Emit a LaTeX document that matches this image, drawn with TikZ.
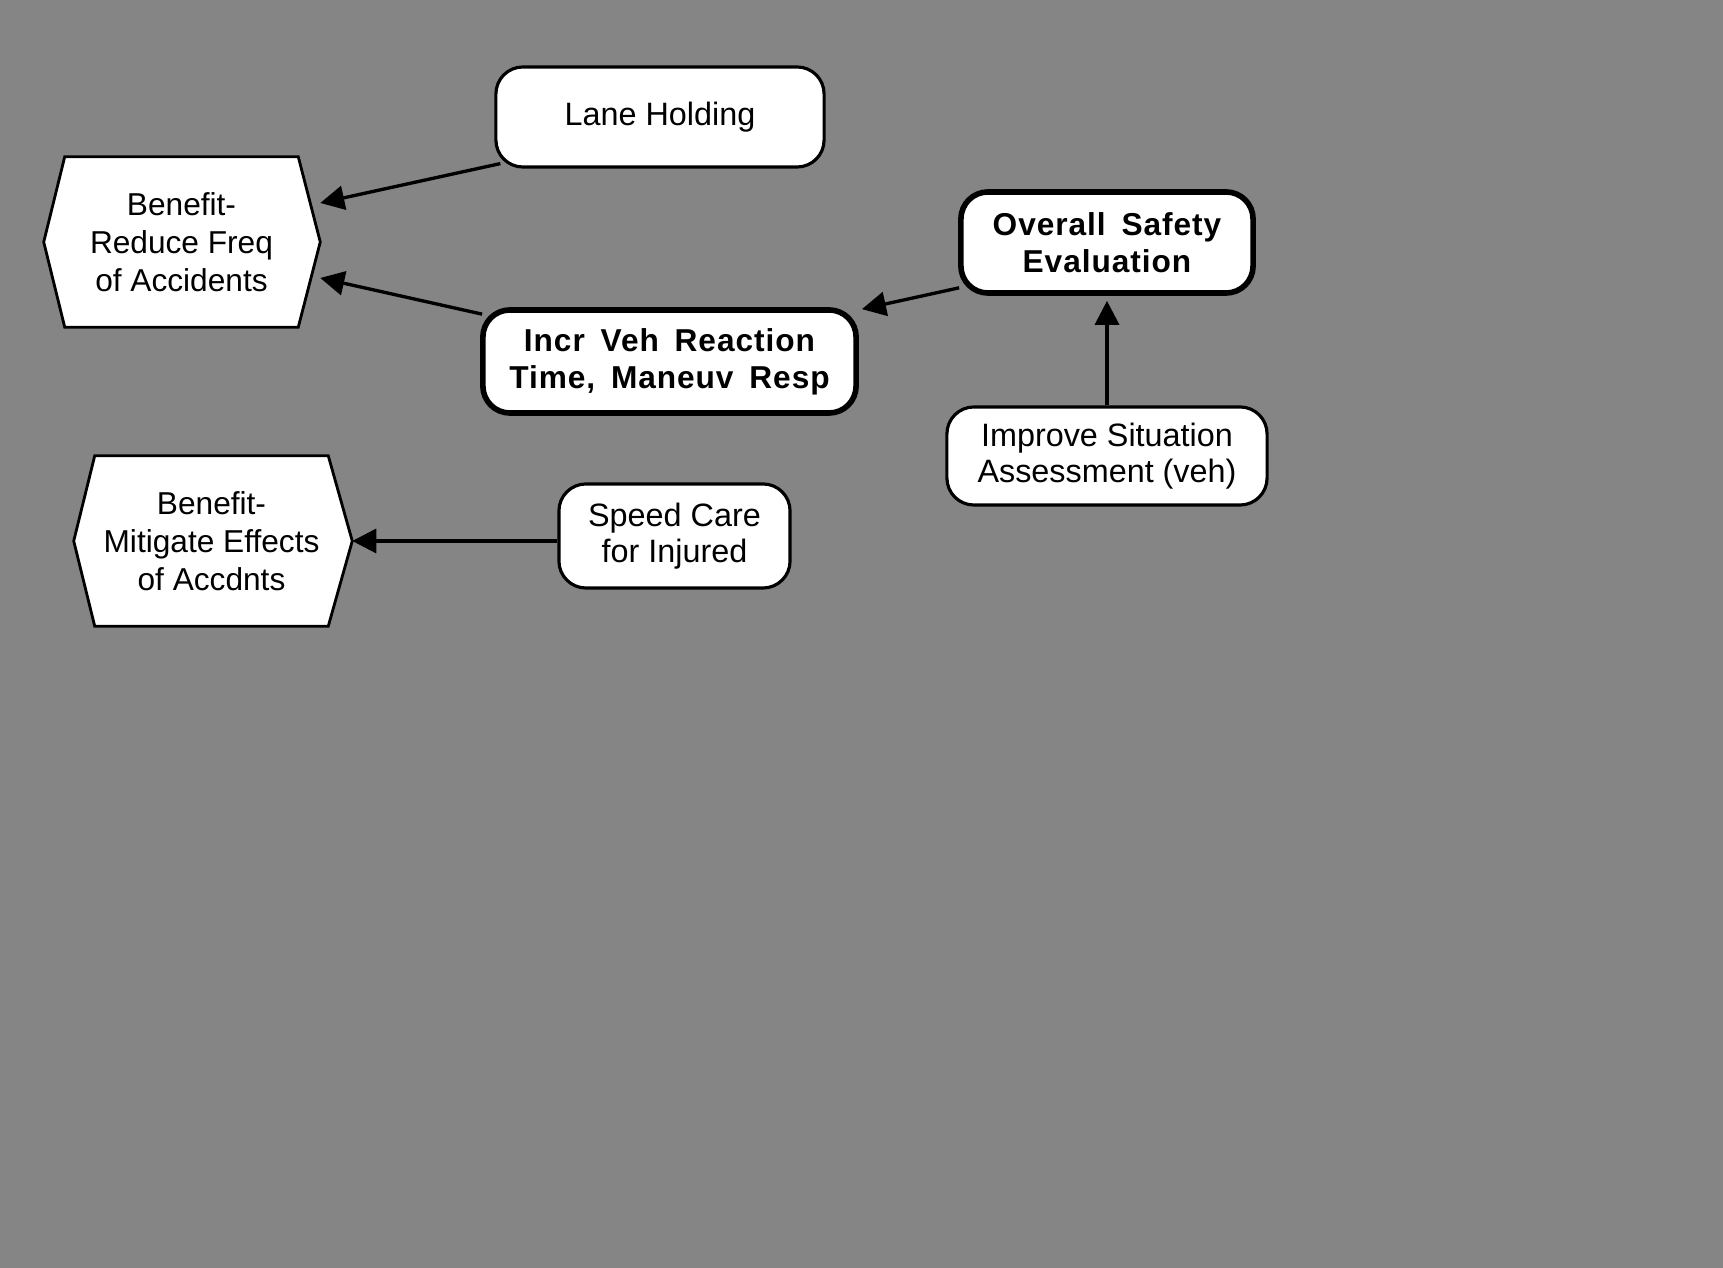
\documentclass[tikz,border=0pt]{standalone}
\usepackage{fontspec}
\setmainfont{Liberation Sans}
\usetikzlibrary{arrows.meta,calc}

\definecolor{screen}{gray}{0.52}
\newcommand\wgap{\hspace{0.5em}}

\pgfdeclarelayer{back}
\pgfsetlayers{back,main}

\tikzset{
  plainbox/.style={draw=black, fill=white, line width=0.9pt, rounded corners=0.27cm,
    inner sep=0pt, align=center, font=\fontsize{9.2}{10.4}\selectfont},
  heavybox/.style={plainbox, line width=1.6pt,
    font=\bfseries\fontsize{9}{10.6}\selectfont\addfontfeatures{LetterSpace=3}},
  benefit/.style={draw=none, inner sep=0pt, align=center,
    minimum width=2.32cm, minimum height=1.69cm, font=\fontsize{9}{10.8}\selectfont},
  hexedge/.style={draw=black, fill=white, line width=0.8pt, line join=miter},
  link/.style={line width=0.95pt, -{Triangle[length=0.24cm,width=0.24cm]}}
}

% hexagonal outline behind a benefit node: #2 = left point, #3 = right point
\newcommand\hexframe[3]{%
  \begin{pgfonlayer}{back}
  \draw[hexedge] (#1.north west) -- (#1.north east) -- ($(#1.east)+(#3,0)$)
    -- (#1.south east) -- (#1.south west) -- ($(#1.west)+(-#2,0)$) -- cycle;
  \end{pgfonlayer}}

\begin{document}
\begin{tikzpicture}[x=0.01cm,y=-0.01cm]
  % halftone screen background
  \begin{pgfonlayer}{back}
    \fill[screen] (0,0) rectangle (1723,1268);
  \end{pgfonlayer}
  \useasboundingbox (0,0) rectangle (1723,1268);

  % benefits
  \node[benefit] (reduce) at (181.5,242) {Benefit-\\Reduce Freq\\of Accidents};
  \hexframe{reduce}{21}{22}
  \node[benefit] (mitigate) at (211.5,541) {Benefit-\\Mitigate Effects\\of Accdnts};
  \hexframe{mitigate}{21}{24}

  % contributing factors
  \node[plainbox, minimum width=3.28cm, minimum height=1.0cm] (lane) at (660,117) {Lane Holding};
  \node[heavybox, minimum width=2.92cm, minimum height=1.01cm] (overall) at (1107,242.5)
    {Overall\wgap Safety\\Evaluation};
  \node[heavybox, minimum width=3.73cm, minimum height=1.03cm] (incr) at (669.5,361.5)
    {Incr\wgap Veh\wgap Reaction\\Time,\wgap Maneuv\wgap Resp};
  \node[plainbox, minimum width=3.2cm, minimum height=0.98cm] (improve) at (1107,456)
    {Improve Situation\\Assessment (veh)};
  \node[plainbox, minimum width=2.31cm, minimum height=1.04cm] (speed) at (674.5,536)
    {Speed Care\\for Injured};

  % connectors
  \draw[link] ($(lane.south west)+(6,-5)$) -- ($(reduce.east)+(22,-39)$);
  \draw[link] ($(incr.north west)+(2,7)$) -- ($(reduce.east)+(22,36)$);
  \draw[link] ($(overall.south west)+(1,-8)$) -- ($(incr.north east)+(3,2)$);
  \draw[link] (improve.north) -- ($(overall.south)+(0,5)$);
  \draw[link] (speed.west |- mitigate.east) -- ($(mitigate.east)+(24,0)$);
\end{tikzpicture}
\end{document}
